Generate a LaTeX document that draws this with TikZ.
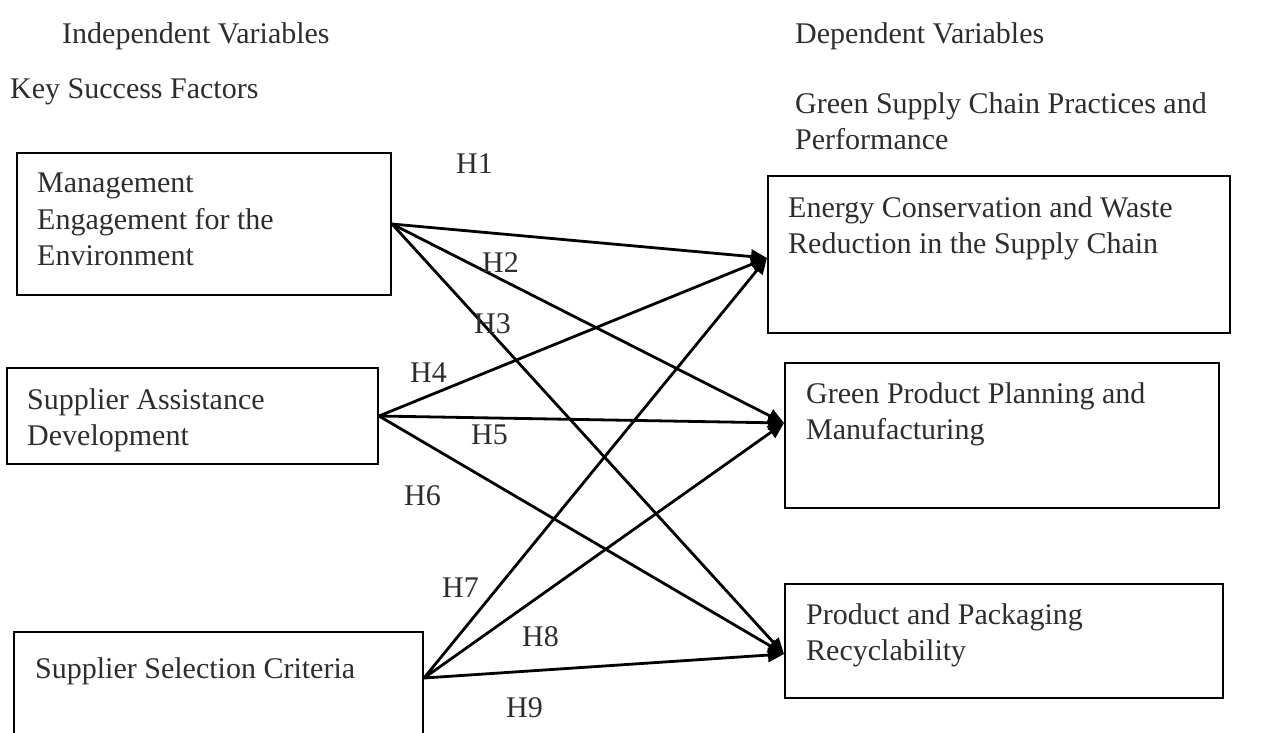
\documentclass[tikz,border=0pt]{standalone}
\usepackage{fontspec}
\setmainfont{Liberation Serif}
\usetikzlibrary{arrows.meta,calc}
\definecolor{ink}{RGB}{45,45,45}
\begin{document}
\begin{tikzpicture}[x=1pt,y=-1pt,
  box/.style={draw=black, line width=2pt, rectangle, inner sep=0pt, anchor=north west},
  txt/.style={anchor=north west, inner sep=0pt, align=left, text=ink,
              font=\fontsize{30}{36.5}\selectfont},
  hlabel/.style={anchor=base west, inner sep=0pt, text=ink,
                 font=\fontsize{30}{36.5}\selectfont},
  hyp/.style={-{Triangle[length=16pt,width=14pt]}, line width=2.8pt}]
\useasboundingbox (0,0) rectangle (1266,732);
\clip (0,0) rectangle (1266,732);

% column headings
\node[hlabel] (indep) at (62,43) {Independent Variables};
\node[hlabel] (ksf)   at (10,98) {Key Success Factors};
\node[hlabel] (dep)   at (795,43) {Dependent Variables};
\node[txt]    (gscp)  at (795,92) {Green Supply Chain Practices and\\Performance};

% key success factors (left column)
\node[box, minimum width=374pt, minimum height=142pt] (b1) at (16,152) {};
\node[box, minimum width=371pt, minimum height=96pt]  (b2) at (6,367) {};
\node[box, minimum width=409pt, minimum height=140pt] (b3) at (13,631) {};
\node[txt] (b1t) at (37,173) {Management\\Engagement for the\\Environment};
\node[txt] (b2t) at (27,388) {Supplier Assistance\\Development};
\node[txt] (b3t) at (35,657) {Supplier Selection Criteria};

% green supply chain outcomes (right column)
\node[box, minimum width=462pt, minimum height=157pt] (r1) at (767,175) {};
\node[box, minimum width=434pt, minimum height=145pt] (r2) at (784,362) {};
\node[box, minimum width=438pt, minimum height=114pt] (r3) at (784,583) {};
\node[txt] (r1t) at (788,196) {Energy Conservation and Waste\\Reduction in the Supply Chain};
\node[txt] (r2t) at (806,382) {Green Product Planning and\\Manufacturing};
\node[txt] (r3t) at (806,603) {Product and Packaging\\Recyclability};

% arrow ports
\coordinate (o1) at (b1.east);
\coordinate (o2) at (b2.east);
\coordinate (o3) at ([yshift=-47pt]b3.north east);
\coordinate (t1) at ([yshift=-83pt]r1.north west);
\coordinate (t2) at ([yshift=-61pt]r2.north west);
\coordinate (t3) at ([yshift=-71pt]r3.north west);

% hypotheses
\draw[hyp] (o1) -- (t1);
\draw[hyp] (o1) -- (t2);
\draw[hyp] (o1) -- (t3);
\draw[hyp] (o2) -- (t1);
\draw[hyp] (o2) -- (t2);
\draw[hyp] (o2) -- (t3);
\draw[hyp] (o3) -- (t1);
\draw[hyp] (o3) -- (t2);
\draw[hyp] (o3) -- (t3);

\node[hlabel] (h1) at (456,173) {H1};
\node[hlabel] (h2) at (482,272) {H2};
\node[hlabel] (h3) at (474,333) {H3};
\node[hlabel] (h4) at (410,382) {H4};
\node[hlabel] (h5) at (471,444) {H5};
\node[hlabel] (h6) at (404,505) {H6};
\node[hlabel] (h7) at (442,597) {H7};
\node[hlabel] (h8) at (522,646) {H8};
\node[hlabel] (h9) at (506,717) {H9};
\end{tikzpicture}
\end{document}
